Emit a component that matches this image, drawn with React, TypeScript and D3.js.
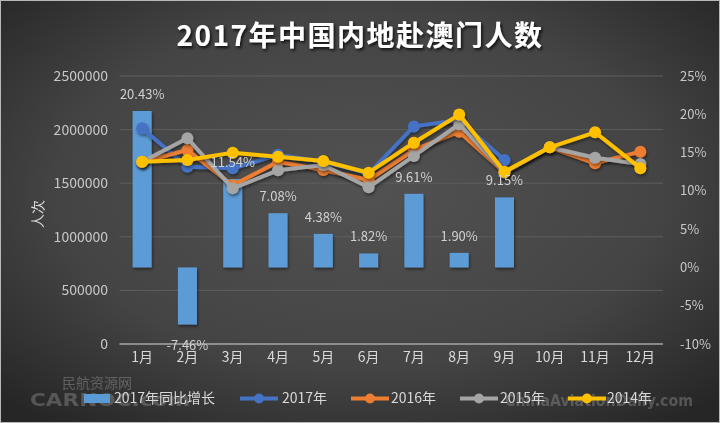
import React from "react";
import * as d3 from "d3";

const months = ["1月", "2月", "3月", "4月", "5月", "6月", "7月", "8月", "9月", "10月", "11月", "12月"];
const growth2017: (number | null)[] = [20.43, -7.46, 11.54, 7.08, 4.38, 1.82, 9.61, 1.9, 9.15, null, null, null];
const v2017: (number | null)[] = [2012000, 1654000, 1639000, 1765000, 1700000, 1590000, 2030000, 2090000, 1716000, null, null, null];
const v2016: (number | null)[] = [1700000, 1810000, 1480000, 1700000, 1623000, 1530000, 1810000, 1980000, 1600000, 1835000, 1686000, 1794000];
const v2015: (number | null)[] = [1700000, 1919000, 1452000, 1620000, 1670000, 1462000, 1754000, 2050000, 1600000, 1835000, 1738000, 1680000];
const v2014: (number | null)[] = [1700000, 1716000, 1785000, 1747000, 1707000, 1598000, 1878000, 2140000, 1607000, 1835000, 1975000, 1640000];
const leftTicks = [0, 500000, 1000000, 1500000, 2000000, 2500000];
const rightTicks = [-10, -5, 0, 5, 10, 15, 20, 25];

const seriesNames = ["2017年", "2016年", "2015年", "2014年"];
const seriesColors = ["#4472c4", "#ed7d31", "#a5a5a5", "#ffc000"];
const barName = "2017年同比增长";
const barColor = "#5b9bd5";

const W = 720;
const H = 423;
const FONT = "'Noto Sans CJK SC', 'Noto Sans', sans-serif";

export default function App() {
  const x = d3.scaleBand<string>().domain(months).range([119.5, 663]).paddingInner(0).paddingOuter(0);
  const yL = d3.scaleLinear().domain([0, 2500000]).range([344, 76]);
  const yR = d3.scaleLinear().domain([-10, 25]).range([344, 76]);
  const bw = x.bandwidth() * 0.42;
  const cx = (m: string) => (x(m) as number) + x.bandwidth() / 2;

  const series = [v2017, v2016, v2015, v2014];
  const line = d3
    .line<number | null>()
    .defined((d) => d != null)
    .x((_, i) => cx(months[i]))
    .y((d) => yL(d as number));

  const legendItems = [
    { x: 240, tx: 282, i: 0 },
    { x: 351, tx: 391, i: 1 },
    { x: 460, tx: 500, i: 2 },
    { x: 568, tx: 607, i: 3 },
  ];

  return (
    <div style={{ position: "fixed", left: 0, top: 0, width: W, height: H }}>
      <svg width={W} height={H} style={{ display: "block", fontFamily: FONT }}>
        <defs>
          <radialGradient id="bg" cx="50%" cy="45%" r="70%">
            <stop offset="0%" stopColor="#525252" />
            <stop offset="60%" stopColor="#444444" />
            <stop offset="100%" stopColor="#262626" />
          </radialGradient>
          <filter id="shadow" x="-10%" y="-10%" width="120%" height="130%">
            <feDropShadow dx="1" dy="2" stdDeviation="1.5" floodColor="#000" floodOpacity="0.45" />
          </filter>
          <filter id="tshadow" x="-10%" y="-30%" width="120%" height="160%">
            <feDropShadow dx="1.5" dy="2" stdDeviation="1.5" floodColor="#000" floodOpacity="0.8" />
          </filter>
        </defs>
        <rect x={0} y={0} width={W} height={H} fill="url(#bg)" />
        <rect x={0.5} y={0.5} width={W - 1} height={H - 1} fill="none" stroke="#b8b8b8" strokeWidth={1} />

        <text
          x={360}
          y={46}
          textAnchor="middle"
          fill="#ffffff"
          fontSize={28}
          fontWeight="bold"
          letterSpacing={1.5}
          filter="url(#tshadow)"
        >
          2017年中国内地赴澳门人数
        </text>

        {/* gridlines */}
        {leftTicks.map((t) => (
          <line
            key={"g" + t}
            x1={119.5}
            x2={663}
            y1={yL(t)}
            y2={yL(t)}
            stroke={t === 0 ? "#a6a6a6" : "#5e5e5e"}
            strokeWidth={t === 0 ? 1.3 : 1}
          />
        ))}

        {/* left axis labels */}
        {leftTicks.map((t) => (
          <text key={"l" + t} x={108} y={yL(t)} dy="0.35em" textAnchor="end" fill="#c8c8c8" fontSize={14}>
            {t}
          </text>
        ))}
        <text
          transform={`translate(38,214) rotate(-90)`}
          textAnchor="middle"
          dy="0.35em"
          fill="#d9d9d9"
          fontSize={14}
        >
          人次
        </text>

        {/* right axis labels */}
        {rightTicks.map((t) => (
          <text key={"r" + t} x={680} y={yR(t)} dy="0.35em" textAnchor="start" fill="#c8c8c8" fontSize={13}>
            {t + "%"}
          </text>
        ))}

        {/* x labels */}
        {months.map((m) => (
          <text key={"x" + m} x={cx(m)} y={357} dy="0.35em" textAnchor="middle" fill="#d9d9d9" fontSize={14}>
            {m}
          </text>
        ))}

        {/* bars */}
        <g filter="url(#shadow)">
          {growth2017.map((g, i) =>
            g == null ? null : (
              <rect
                key={"b" + i}
                x={cx(months[i]) - bw / 2}
                y={Math.min(yR(g), yR(0))}
                width={bw}
                height={Math.abs(yR(g) - yR(0))}
                fill={barColor}
              />
            )
          )}
        </g>

        {/* lines */}
        {series.map((s, si) => (
          <g key={"s" + si} filter="url(#shadow)">
            <path d={line(s) || ""} fill="none" stroke={seriesColors[si]} strokeWidth={4} strokeLinejoin="round" />
            {s.map((v, i) =>
              v == null ? null : (
                <circle key={i} cx={cx(months[i])} cy={yL(v)} r={6} fill={seriesColors[si]} />
              )
            )}
          </g>
        ))}

        {/* bar labels */}
        {growth2017.map((g, i) =>
          g == null ? null : (
            <text
              key={"bl" + i}
              x={cx(months[i])}
              y={g >= 0 ? yR(g) - 12 : yR(g) + 25}
              textAnchor="middle"
              fill="#d0d0d0"
              fontSize={13}
            >
              {g.toFixed(2) + "%"}
            </text>
          )
        )}

        {/* watermarks */}
        <g opacity={0.45}>
          <text x={62} y={388} fill="#9a9a9a" fontSize={14}>
            民航资源网
          </text>
          <text
            x={30}
            y={406}
            fill="#8c8c8c"
            fontSize={17}
            fontWeight="bold"
            fontFamily="'DejaVu Sans', sans-serif"
            textLength={160}
            lengthAdjust="spacingAndGlyphs"
          >
            CARNOC.com
          </text>
          <text
            x={505}
            y={406}
            fill="#8c8c8c"
            fontSize={15}
            fontWeight="bold"
            fontFamily="'DejaVu Sans', sans-serif"
            textLength={188}
            lengthAdjust="spacingAndGlyphs"
          >
            ChinaAviationDaily.com
          </text>
        </g>

        {/* legend */}
        <g fontSize={14} fill="#d9d9d9">
          <rect x={84} y={394} width={26} height={9} fill={barColor} />
          <text x={114} y={398.5} dy="0.35em" fill="#d9d9d9">
            {barName}
          </text>
          {legendItems.map((it) => (
            <g key={"lg" + it.i}>
              <line x1={it.x} x2={it.x + 38} y1={398.5} y2={398.5} stroke={seriesColors[it.i]} strokeWidth={4} />
              <circle cx={it.x + 19} cy={398.5} r={5} fill={seriesColors[it.i]} />
              <text x={it.tx} y={398.5} dy="0.35em" fill="#d9d9d9">
                {seriesNames[it.i]}
              </text>
            </g>
          ))}
        </g>
      </svg>
    </div>
  );
}
